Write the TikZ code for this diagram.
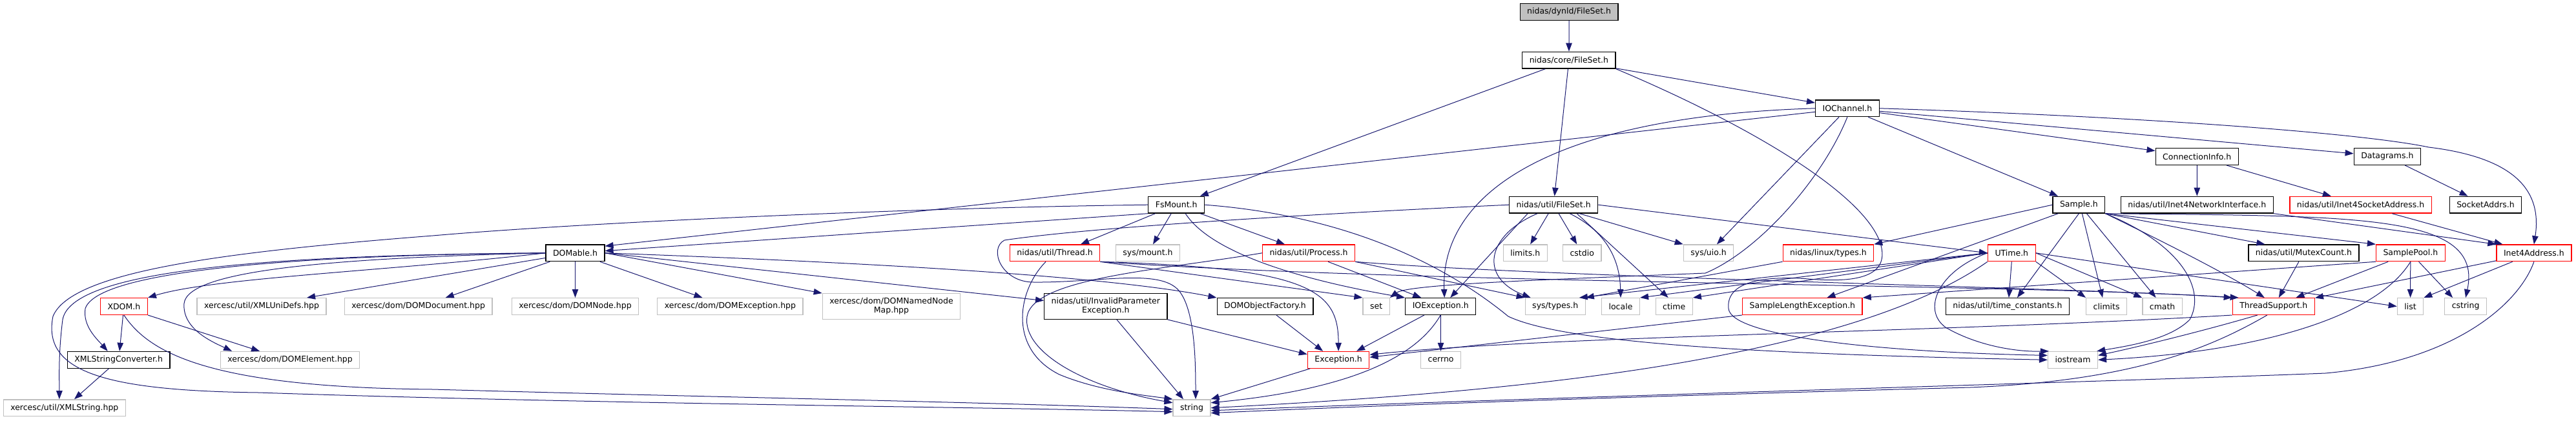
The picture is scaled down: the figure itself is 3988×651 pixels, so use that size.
\documentclass[tikz,border=0pt]{standalone}
\usepackage{fontspec}
\setmainfont{DejaVu Sans}
\usepackage{tikz}
\usetikzlibrary{arrows.meta}
\definecolor{edgeblue}{HTML}{191970}
\definecolor{extgray}{HTML}{C0C0C0}
\tikzstyle{hfile}=[rectangle, draw=black, fill=white, line width=1.3pt,% a plain header box
inner xsep=11pt, inner ysep=0pt, minimum height=25.7pt, align=center,
font=\fontsize{12.5}{14}\selectfont]
\tikzstyle{hroot}=[hfile, fill=extgray]
\tikzstyle{hcut}=[hfile, draw=red]
\tikzstyle{hsys}=[hfile, draw=extgray]
\tikzstyle{incl}=[->, draw=edgeblue, line width=1pt]

\begin{document}
\begin{tikzpicture}[x=1pt,y=-1pt,>={Triangle[length=13pt,width=9.5pt]}]
\useasboundingbox (0,0) rectangle (3988,651);
\node[hroot] (dynld) at (2429.1,18.5) {nidas/dynld/FileSet.h};
\node[hfile] (core) at (2428.9,93.2) {nidas/core/FileSet.h};
\node[hfile] (iochan) at (2859.9,167.8) {IOChannel.h};
\node[hfile] (conninfo) at (3401.2,242.5) {ConnectionInfo.h};
\node[hfile] (datagrams) at (3695.8,242.5) {Datagrams.h};
\node[hfile] (fsmount) at (1821.2,317.2) {FsMount.h};
\node[hfile] (ufileset) at (2405.1,317.2) {nidas/util/FileSet.h};
\node[hfile] (sample) at (3218.4,317.2) {Sample.h};
\node[hfile] (netif) at (3401.3,317.2) {nidas/util/Inet4NetworkInterface.h};
\node[hcut] (sockaddr) at (3654.6,317.2) {nidas/util/Inet4SocketAddress.h};
\node[hfile] (sockaddrs) at (3848,317.2) {SocketAddrs.h};
\node[hfile] (domable) at (890.5,391.8) {DOMable.h};
\node[hcut] (thread) at (1633,391.8) {nidas/util/Thread.h};
\node[hsys] (sysmount) at (1777,391.8) {sys/mount.h};
\node[hcut] (process) at (2026,391.8) {nidas/util/Process.h};
\node[hsys] (limits) at (2361.2,391.8) {limits.h};
\node[hsys] (cstdio) at (2449.2,391.8) {cstdio};
\node[hsys] (sysuio) at (2645,391.8) {sys/uio.h};
\node[hcut] (linuxtypes) at (2830.4,391.8) {nidas/linux/types.h};
\node[hcut] (utime) at (3114.3,391.8) {UTime.h};
\node[hfile] (mutexcount) at (3566.4,391.8) {nidas/util/MutexCount.h};
\node[hcut] (samplepool) at (3731.8,391.8) {SamplePool.h};
\node[hcut] (inetaddr) at (3922.9,391.8) {Inet4Address.h};
\node[hcut] (xdom) at (191.9,474.5) {XDOM.h};
\node[hsys] (unidefs) at (405.1,474.5) {xercesc/util/XMLUniDefs.hpp};
\node[hsys] (domdoc) at (647.7,474.5) {xercesc/dom/DOMDocument.hpp};
\node[hsys] (domnode) at (890.5,474.5) {xercesc/dom/DOMNode.hpp};
\node[hsys] (domexc) at (1130.4,474.5) {xercesc/dom/DOMException.hpp};
\node[hsys, minimum height=39.6pt] (nnmap) at (1380,474.5) {xercesc/dom/DOMNamedNode\\Map.hpp};
\node[hfile, minimum height=39.6pt] (invparam) at (1711.8,474.5) {nidas/util/InvalidParameter\\Exception.h};
\node[hfile] (domfact) at (1958.5,474.5) {DOMObjectFactory.h};
\node[hsys] (set) at (2130.6,474.5) {set};
\node[hfile] (ioexc) at (2230.2,474.5) {IOException.h};
\node[hsys] (systypes) at (2407.7,474.5) {sys/types.h};
\node[hsys] (locale) at (2509,474.5) {locale};
\node[hsys] (ctime) at (2591.7,474.5) {ctime};
\node[hcut] (sle) at (2790.4,474.5) {SampleLengthException.h};
\node[hfile] (timeconst) at (3107.9,474.5) {nidas/util/time\_constants.h};
\node[hsys] (climits) at (3261.1,474.5) {climits};
\node[hsys] (cmath) at (3347.6,474.5) {cmath};
\node[hcut] (threadsup) at (3519.8,474.5) {ThreadSupport.h};
\node[hsys] (list) at (3731.5,474.5) {list};
\node[hsys] (cstring) at (3817.1,474.5) {cstring};
\node[hfile] (xmlsc) at (183.7,557.3) {XMLStringConverter.h};
\node[hsys] (domelem) at (449.1,557.3) {xercesc/dom/DOMElement.hpp};
\node[hcut] (exception) at (2072.1,557.3) {Exception.h};
\node[hsys] (cerrno) at (2230.6,557.3) {cerrno};
\node[hsys] (iostream) at (3209,557.3) {iostream};
\node[hsys] (xmlstring) at (99.8,631.7) {xercesc/util/XMLString.hpp};
\node[hsys] (string) at (1845,631.7) {string};
% top of the graph
\draw[incl] (dynld) -- (core);
\draw[incl] (core) -- (fsmount);
\draw[incl] (core) -- (ufileset);
\draw[incl] (core) -- (iochan);
\draw[incl] (core.south east) .. controls (2700,190) and (2890,300) .. (2912,380) .. controls (2925,430) and (2870,438) .. (2800,432) .. controls (2720,426) and (2672,440) .. (2676,478) .. controls (2680,520) and (2900,545) .. (iostream.170);
% IOChannel.h
\draw[incl] (iochan) -- (domable.13);
\draw[incl] (iochan.west) .. controls (2400,180) and (2230,300) .. ([xshift=6pt]ioexc.north);
\draw[incl] (iochan) -- (sysuio);
\draw[incl] (iochan.south) .. controls (2820,280) and (2720,390) .. (2640,423) .. controls (2400,433) and (2180,440) .. (set.north east);
\draw[incl] (iochan.east) .. controls (3300,180) and (3650,205) .. (3760,228) .. controls (3900,245) and (3935,300) .. (inetaddr.north);
\draw[incl] (iochan) -- (datagrams);
\draw[incl] (iochan) -- (conninfo);
\draw[incl] (iochan) -- (sample);
\draw[incl] (conninfo) -- (netif);
\draw[incl] (conninfo) -- (sockaddr);
\draw[incl] (datagrams) -- (sockaddrs);
\draw[incl] (netif.south east) -- (inetaddr.north west);
\draw[incl] (sockaddr) -- (inetaddr);
% FsMount.h
\draw[incl] (fsmount.south west) -- (domable.4);
\draw[incl] (fsmount) -- ([xshift=40pt]thread.north);
\draw[incl] (fsmount) -- (sysmount);
\draw[incl] (fsmount) -- (process);
\draw[incl] ([xshift=14pt]fsmount.south) .. controls (1880,400) and (2050,440) .. (ioexc.north west);
\draw[incl] (fsmount.east) .. controls (2100,335) and (2250,420) .. (2335,490) .. controls (2420,530) and (2700,548) .. (iostream.west);
\draw[incl] (fsmount.west) .. controls (1400,322) and (900,345) .. (670,365) .. controls (350,390) and (110,420) .. (82,490) .. controls (65,575) and (160,605) .. (400,608) .. controls (900,625) and (1500,630) .. ([yshift=-6pt]string.west);
% Thread.h, Process.h
\draw[incl] (thread.south east) .. controls (2200,440) and (3150,440) .. (threadsup.north west);
\draw[incl] (thread.south east) -- (set.north west);
\draw[incl] (thread.south east) .. controls (2030,415) and (2072,450) .. (exception.north);
\draw[incl] ([xshift=-14pt]thread.south) .. controls (1575,450) and (1560,540) .. (1640,580) .. controls (1700,605) and (1770,612) .. (string.north west);
\draw[incl] ([xshift=30pt]process.south) -- ([xshift=-30pt]ioexc.north);
\draw[incl] (process.south east) -- (systypes.north west);
\draw[incl] (process.south east) .. controls (2400,430) and (3200,445) .. ([xshift=10pt]threadsup.north west);
\draw[incl] (process.west) .. controls (1800,418) and (1600,430) .. (1590,490) .. controls (1582,545) and (1680,600) .. (string.165);
% nidas/util/FileSet.h
\draw[incl] ([xshift=-40pt]ufileset.south) -- ([xshift=15pt]ioexc.north);
\draw[incl] ([xshift=-25pt]ufileset.south) .. controls (2300,365) and (2290,430) .. ([xshift=-38pt]systypes.north);
\draw[incl] (ufileset) -- (limits);
\draw[incl] (ufileset) -- (cstdio);
\draw[incl] ([xshift=25pt]ufileset.south) .. controls (2500,365) and (2508,420) .. (locale.north);
\draw[incl] ([xshift=36pt]ufileset.south) -- ([xshift=-9pt]ctime.north);
\draw[incl] ([xshift=40pt]ufileset.south) -- (sysuio.north west);
\draw[incl] (ufileset.east) -- (utime.west);
\draw[incl] (ufileset.west) .. controls (2100,328) and (1700,350) .. (1555,372) .. controls (1530,385) and (1550,437) .. (1600,437) .. controls (1700,438) and (1795,415) .. (1825,450) .. controls (1850,480) and (1851,560) .. ([xshift=6pt]string.north);
% UTime.h
\draw[incl] (utime.west) -- (systypes.20);
\draw[incl] (utime.west) -- (locale.north east);
\draw[incl] (utime.west) -- (ctime.north east);
\draw[incl] (utime.south) -- ([xshift=2pt]timeconst.north);
\draw[incl] (utime.south east) -- (climits.north west);
\draw[incl] (utime.east) -- (cmath.north west);
\draw[incl] (utime.east) -- (list.west);
\draw[incl] (utime.west) .. controls (3000,420) and (2975,480) .. (3012,507) .. controls (3060,535) and (3120,545) .. (iostream.160);
\draw[incl] (utime.south west) .. controls (2970,480) and (2800,525) .. (2640,555) .. controls (2400,600) and (2100,620) .. (string.east);
\draw[incl] (linuxtypes.south west) -- (systypes.north east);
% Sample.h
\draw[incl] (sample.west) -- (linuxtypes.north east);
\draw[incl] ([xshift=-32pt]sample.south) -- ([xshift=38pt]sle.north);
\draw[incl] (sample.south) -- ([xshift=15pt]timeconst.north);
\draw[incl] ([xshift=5pt]sample.south) -- ([xshift=-6pt]climits.north);
\draw[incl] ([xshift=12pt]sample.south) -- ([xshift=-10pt]cmath.north);
\draw[incl] (sample.south east) -- ([xshift=-60pt]mutexcount.north);
\draw[incl] (sample.south east) -- (samplepool.north west);
\draw[incl] (sample.south east) .. controls (3340,370) and (3440,420) .. ([xshift=-14pt]threadsup.north);
\draw[incl] (sample.south east) .. controls (3380,380) and (3415,450) .. (3390,495) .. controls (3360,525) and (3300,535) .. (iostream.20);
\draw[incl] (sample.south east) .. controls (3650,335) and (3845,330) .. (cstring.north);
\draw[incl] (mutexcount) -- ([xshift=8pt]threadsup.north);
\draw[incl] (samplepool) -- (threadsup);
\draw[incl] (samplepool) -- (list);
\draw[incl] (samplepool) -- ([xshift=-20pt]cstring.north);
\draw[incl] (samplepool.south west) -- (sle.north east);
\draw[incl] (samplepool.south) .. controls (3680,490) and (3500,545) .. (iostream.east);
\draw[incl] (inetaddr) -- (threadsup);
\draw[incl] (inetaddr) -- (list.north east);
\draw[incl] (inetaddr.south) .. controls (3900,470) and (3800,560) .. (3600,578) .. controls (3300,590) and (2400,615) .. (string.-8);
\draw[incl] (threadsup.south west) .. controls (3000,515) and (2400,520) .. ([yshift=8pt]exception.east);
\draw[incl] ([xshift=-25pt]threadsup.south) .. controls (3420,510) and (3320,535) .. (iostream.10);
\draw[incl] ([xshift=-10pt]threadsup.south) .. controls (3420,540) and (3300,590) .. (3050,600) .. controls (2600,612) and (2200,625) .. (string.-15);
\draw[incl] (sle.south west) -- ([yshift=4pt]exception.east);
% exceptions
\draw[incl] (ioexc) -- ([xshift=28pt]exception.north);
\draw[incl] (ioexc) -- (cerrno);
\draw[incl] (ioexc.south) .. controls (2200,540) and (2120,600) .. (string.15);
\draw[incl] (exception) -- (string.north east);
\draw[incl] (invparam.south east) -- (exception.170);
\draw[incl] (domfact) -- ([xshift=-24pt]exception.north);
\draw[incl] (invparam) -- ([xshift=-13pt]string.north);
% DOMable.h
\draw[incl] (domable) -- ([xshift=70pt]unidefs.north);
\draw[incl] (domable) -- ([xshift=42pt]domdoc.north);
\draw[incl] (domable) -- (domnode);
\draw[incl] (domable) -- ([xshift=-43pt]domexc.north);
\draw[incl] (domable.east) -- (nnmap.north west);
\draw[incl] (domable.east) -- ([yshift=9pt]invparam.west);
\draw[incl] (domable.east) .. controls (1300,405) and (1700,425) .. (domfact.north west);
\draw[incl] (domable.west) .. controls (600,420) and (330,430) .. (xdom.north east);
\draw[incl] (domable.west) .. controls (450,395) and (150,420) .. (132,478) .. controls (128,505) and (150,525) .. ([xshift=-17pt]xmlsc.north);
\draw[incl] (domable.west) .. controls (400,395) and (110,420) .. (97,495) .. controls (90,550) and (92,590) .. ([xshift=-8pt]xmlstring.north);
\draw[incl] (domable.west) .. controls (500,400) and (290,420) .. (285,470) .. controls (282,510) and (330,530) .. ([xshift=-90pt]domelem.north);
\draw[incl] (xdom) -- (xmlsc);
\draw[incl] (xdom.south east) -- ([xshift=-47pt]domelem.north);
\draw[incl] (xdom.south) .. controls (230,545) and (320,600) .. (670,603) .. controls (1100,615) and (1500,622) .. ([yshift=-2pt]string.west);
\draw[incl] (xmlsc) -- (xmlstring);
\end{tikzpicture}
\end{document}
